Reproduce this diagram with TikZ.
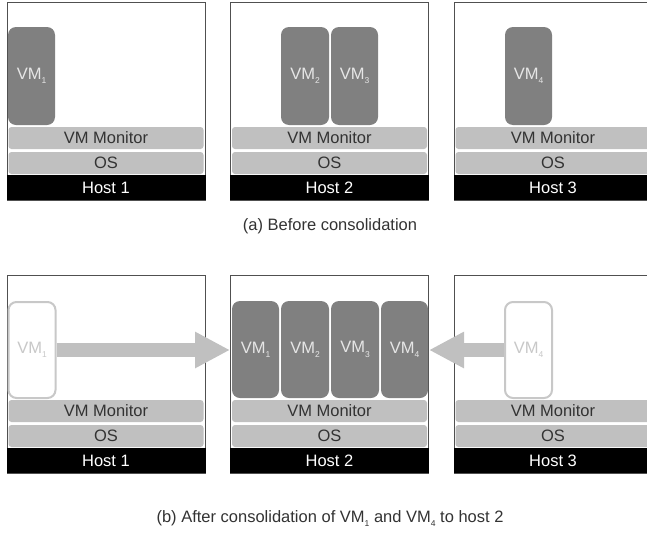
\documentclass[tikz,border=0pt]{standalone}
\usepackage{fontspec}
\setmainfont{Liberation Sans}
\usetikzlibrary{arrows.meta}
\newcommand\vmsub[1]{\raisebox{-0.5ex}{\fontsize{8.5}{8.5}\selectfont #1}}
\definecolor{vmgray}{HTML}{808080}
\definecolor{bargray}{HTML}{C0C0C0}
\definecolor{framegray}{HTML}{505050}
\definecolor{ghostgray}{HTML}{C8C8C8}
\definecolor{bartext}{HTML}{333333}
\definecolor{vmtext}{HTML}{E6E6E6}
\tikzset{
  txt/.style={font=\fontsize{16.5}{16.5}\selectfont},
  frame/.style={draw=framegray, line width=1pt, fill=white, minimum width=198pt, minimum height=198pt, inner sep=0pt},
  bar/.style={txt, fill=bargray, rounded corners=3pt, minimum width=195pt, minimum height=22pt, inner sep=0pt, text=bartext},
  hostbar/.style={txt, fill=black, minimum width=199pt, minimum height=25pt, inner sep=0pt, text=white},
  vm/.style={txt, fill=vmgray, rounded corners=8pt, minimum width=47pt, minimum height=98pt, inner sep=0pt, text=vmtext},
  ghost/.style={txt, draw=ghostgray, line width=2pt, fill=white, rounded corners=8pt, minimum width=47pt, minimum height=96pt, inner sep=0pt, text=ghostgray},
  move/.style={draw=bargray, line width=14pt, -{Triangle[length=35pt,width=34pt]}},
  caption/.style={txt, text=bartext, inner sep=0pt}
}
\begin{document}
\begin{tikzpicture}[x=1pt,y=-1pt]
\useasboundingbox (0,0) rectangle (647,533);
\fill[white] (0,0) rectangle (647,533);
\begin{scope}
\clip (0,0) rectangle (647,533);
% ---------- top row ----------
\node[frame] (f1a) at (106,101) {};
\node[frame] (f2a) at (329.5,101) {};
\node[frame] (f3a) at (553,101) {};
\foreach \c/\n/\k in {106/1/1, 329.5/2/2, 553/3/3}{
  \node[bar] (vmm\k a) at (\c,138) {VM Monitor};
  \node[bar] (os\k a) at (\c,163) {OS};
  \node[hostbar] (h\k a) at (\c,187.5) {Host \n};
}
\node[vm] (vm1a) at (31.5,76) {VM\vmsub{1}};
\node[vm, minimum width=48pt] (vm2a) at (305,76) {VM\vmsub{2}};
\node[vm] (vm3a) at (354.5,76) {VM\vmsub{3}};
\node[vm] (vm4a) at (528.5,76) {VM\vmsub{4}};
% ---------- bottom row ----------
\node[frame] (f1b) at (106,374) {};
\node[frame] (f2b) at (329.5,374) {};
\node[frame] (f3b) at (553,374) {};
\foreach \c/\n/\k in {106/1/1, 329.5/2/2, 553/3/3}{
  \node[bar] (vmm\k b) at (\c,411) {VM Monitor};
  \node[bar] (os\k b) at (\c,436) {OS};
  \node[hostbar] (h\k b) at (\c,460.5) {Host \n};
}
\node[vm, minimum height=97pt] (vm1b) at (255.5,349.5) {VM\vmsub{1}};
\node[vm, minimum height=97pt, minimum width=48pt] (vm2b) at (305,349.5) {VM\vmsub{2}};
\node[vm, minimum height=97pt, minimum width=48pt] (vm3b) at (355,349.5) {VM\vmsub{3}};
\node[vm, minimum height=97pt] (vm4b) at (404.5,349.5) {VM\vmsub{4}};
\node[ghost] (g1) at (32,350) {VM\vmsub{1}};
\node[ghost] (g4) at (528.5,350) {VM\vmsub{4}};
\draw[move] (g1.east) -- (g1.east -| f2b.west);
\draw[move] (g4.west) -- (g4.west -| f2b.east);
% ---------- captions ----------
\node[caption] (capa) at (330,226.5) {(a) Before consolidation};
\node[caption] (capb) at (330,518.5) {(b) After consolidation of VM\vmsub{1} and VM\vmsub{4} to host 2};
\end{scope}
\end{tikzpicture}
\end{document}
